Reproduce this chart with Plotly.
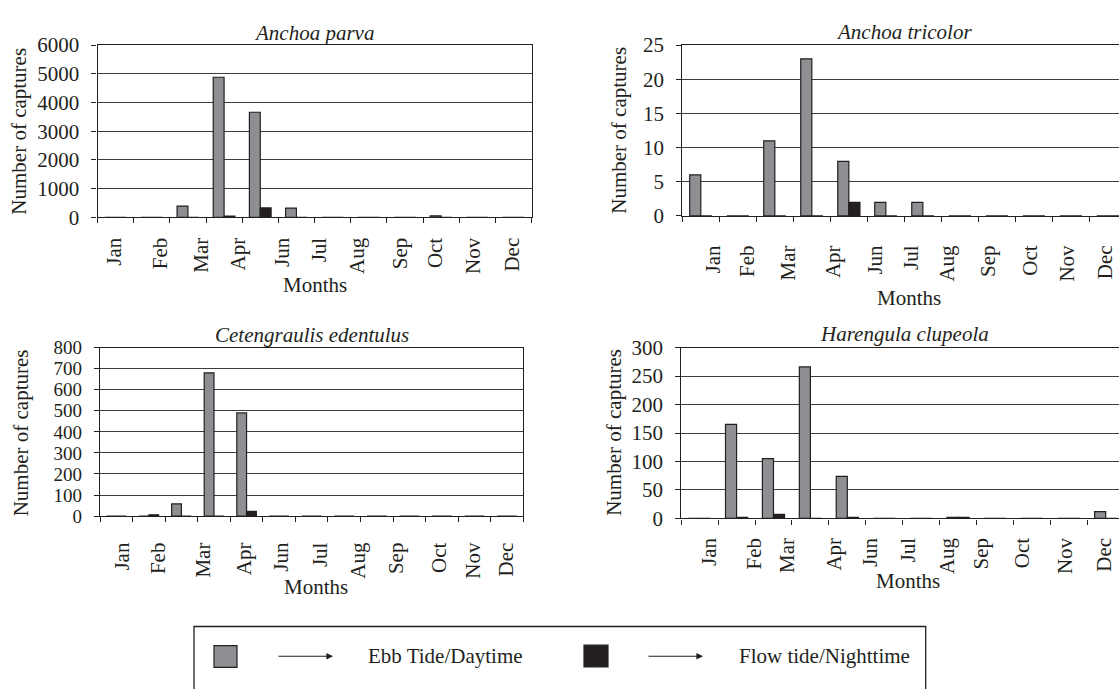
import plotly.graph_objects as go

W, H = 1119, 689

# ---------------- data ----------------
month_labels = ["Jan", "Feb", "Mar", "Apr", "Jun", "Jul", "Aug", "Sep", "Oct", "Nov", "Dec"]

samples_12 = list(range(12))   # sampling campaigns (panels with 12 samples)
samples_13 = list(range(13))   # sampling campaigns (panel with 13 samples)

parva_ebb = [0, 0, 390, 4880, 3660, 320, 0, 0, 0, 50, 0, 0]
parva_flow = [0, 0, 0, 45, 325, 0, 0, 0, 0, 0, 0, 0]

tricolor_ebb = [6, 0, 11, 23, 8, 2, 2, 0, 0, 0, 0, 0]
tricolor_flow = [0, 0, 0, 0, 2, 0, 0, 0, 0, 0, 0, 0]

cetengraulis_ebb = [0, 0, 58, 680, 490, 0, 0, 0, 0, 0, 0, 0, 0]
cetengraulis_flow = [0, 6, 0, 0, 22, 0, 0, 0, 0, 0, 0, 0, 0]

harengula_ebb = [0, 165, 105, 266, 74, 0, 0, 2, 0, 0, 0, 12]
harengula_flow = [0, 2, 7, 0, 2, 0, 0, 2, 0, 0, 0, 0]

series_names = ["Ebb Tide/Daytime", "Flow tide/Nighttime"]

# ---------------- layout constants ----------------
FONT = "Liberation Serif"
FS = 21
INK = "#231f20"
GRAY = "#8e8f92"

# month-label placements along each category axis (as printed in the figure)
lab_p1 = [-0.05, 1.24, 2.38, 3.38, 4.62, 5.63, 6.68, 7.87, 8.85, 9.88, 10.97]
lab_p2 = [0.34, 1.25, 2.36, 3.57, 4.70, 5.69, 6.66, 7.76, 8.90, 9.89, 10.93]
lab_p3 = [0.19, 1.30, 2.67, 3.92, 5.05, 6.27, 7.43, 8.59, 9.91, 10.97, 11.97]
lab_p4 = [0.27, 1.48, 2.38, 3.64, 4.62, 5.64, 6.70, 7.62, 8.73, 9.89, 10.95]


def fx(px):
    return px / W


def fy(py):
    return 1 - py / H


panels = [
    dict(title="Anchoa parva", x=samples_12, ebb=parva_ebb, flow=parva_flow,
         box=(97.5, 531.5, 34.3, 212.7), xr=[-0.5, 11.5], yr=[0, 6000], dt=1000,
         labs=lab_p1, stand=11, mirror=True, yfs=FS,
         title_xy=(314, 22), months_xy=(315, 283), ytitle_xy=(19, 124)),
    dict(title="Anchoa tricolor", x=samples_12, ebb=tricolor_ebb, flow=tricolor_flow,
         box=(682.3, 1119, 34.3, 211.3), xr=[-0.5, 11.3], yr=[0, 25], dt=5,
         labs=lab_p2, stand=20, mirror=False, yfs=FS,
         title_xy=(904, 21), months_xy=(909, 296), ytitle_xy=(619, 123)),
    dict(title="Cetengraulis edentulus", x=samples_13, ebb=cetengraulis_ebb, flow=cetengraulis_flow,
         box=(100, 523.4, 347.7, 522.3), xr=[-0.5, 12.5], yr=[0, 800], dt=100,
         labs=lab_p3, stand=17, mirror=True, yfs=19,
         title_xy=(312, 335), months_xy=(316, 596), ytitle_xy=(20.5, 436)),
    dict(title="Harengula clupeola", x=samples_12, ebb=harengula_ebb, flow=harengula_flow,
         box=(681.2, 1119, 347.7, 524.7), xr=[-0.5, 11.36], yr=[0, 300], dt=50,
         labs=lab_p4, stand=10, mirror=False, yfs=FS,
         title_xy=(904, 334), months_xy=(908, 590), ytitle_xy=(614, 436)),
]

fig = go.Figure()
annotations = []
shapes = []

for i, p in enumerate(panels, start=1):
    sfx = "" if i == 1 else str(i)
    xa, ya = "x" + sfx, "y" + sfx
    for name, vals, col in ((series_names[0], p["ebb"], GRAY), (series_names[1], p["flow"], INK)):
        fig.add_trace(go.Bar(
            x=p["x"], y=vals, name=name, xaxis=xa, yaxis=ya,
            marker=dict(color=col, line=dict(color=INK, width=1.2)),
            showlegend=False,
        ))
    x0, x1, y0, y1 = p["box"]
    fig.layout["xaxis" + sfx] = dict(
        domain=[fx(x0), fx(x1)], anchor=ya, range=p["xr"],
        tickmode="array", tickvals=p["labs"], ticktext=month_labels,
        tickangle=-90, ticks="", ticklabelstandoff=p["stand"],
        tickfont=dict(family=FONT, size=FS, color=INK),
        showline=True, linecolor=INK, linewidth=1.2, mirror=True,
        showgrid=False, zeroline=False, fixedrange=True,
        minor=dict(tickmode="linear", tick0=-0.5, dtick=1, ticks="outside",
                   ticklen=5, tickcolor=INK, tickwidth=1.2, showgrid=False),
    )
    fig.layout["yaxis" + sfx] = dict(
        domain=[fy(y1), fy(y0)], anchor=xa, range=p["yr"],
        tickmode="linear", tick0=0, dtick=p["dt"],
        ticks="outside", ticklen=5, tickcolor=INK, tickwidth=1.2,
        ticklabelstandoff=8,
        tickfont=dict(family=FONT, size=p["yfs"], color=INK),
        showline=True, linecolor=INK, linewidth=1.2, mirror=p["mirror"],
        showgrid=True, gridcolor="#3c3c3c", gridwidth=1.2, zeroline=False,
        fixedrange=True,
    )
    tx, ty = p["title_xy"]
    annotations.append(dict(text=p["title"], x=fx(tx), y=fy(ty), xref="paper", yref="paper",
                            showarrow=False, xanchor="center", yanchor="middle",
                            font=dict(family=FONT, size=FS, color=INK, style="italic")))
    mx, my = p["months_xy"]
    annotations.append(dict(text="Months", x=fx(mx), y=fy(my), xref="paper", yref="paper",
                            showarrow=False, xanchor="center", yanchor="middle",
                            font=dict(family=FONT, size=FS, color=INK)))
    yx, yy = p["ytitle_xy"]
    annotations.append(dict(text="Number of captures", x=fx(yx), y=fy(yy), xref="paper", yref="paper",
                            showarrow=False, xanchor="center", yanchor="middle", textangle=-90,
                            font=dict(family=FONT, size=FS, color=INK)))

# ---------------- legend box (drawn) ----------------
shapes.append(dict(type="rect", xref="paper", yref="paper",
                   x0=fx(194), x1=fx(925.7), y0=fy(705), y1=fy(636.7),
                   line=dict(color=INK, width=1.3), fillcolor="rgba(0,0,0,0)"))
shapes.append(dict(type="rect", xref="paper", yref="paper",
                   x0=fx(214), x1=fx(237), y0=fy(679), y1=fy(656.5),
                   line=dict(color=INK, width=1.2), fillcolor=GRAY))
shapes.append(dict(type="rect", xref="paper", yref="paper",
                   x0=fx(584), x1=fx(608), y0=fy(678.5), y1=fy(656),
                   line=dict(color=INK, width=1.2), fillcolor=INK))
for hx in (333, 703):
    annotations.append(dict(text="", x=fx(hx), y=fy(667.5), xref="paper", yref="paper",
                            ax=-56, ay=0, axref="pixel", ayref="pixel", showarrow=True,
                            arrowhead=2, arrowsize=1.1, arrowwidth=1.2, arrowcolor=INK))
annotations.append(dict(text=series_names[0], x=fx(445.5), y=fy(667.5), xref="paper", yref="paper",
                        showarrow=False, xanchor="center", yanchor="middle",
                        font=dict(family=FONT, size=FS, color=INK)))
annotations.append(dict(text=series_names[1], x=fx(824.5), y=fy(667.5), xref="paper", yref="paper",
                        showarrow=False, xanchor="center", yanchor="middle",
                        font=dict(family=FONT, size=FS, color=INK)))

fig.update_layout(
    width=W, height=H, margin=dict(l=0, r=0, t=0, b=0),
    paper_bgcolor="white", plot_bgcolor="white",
    barmode="group", bargap=0.4, bargroupgap=0,
    showlegend=False, annotations=annotations, shapes=shapes,
    font=dict(family=FONT, size=FS, color=INK),
)

fig.write_html(
    "out.html",
    config={"displayModeBar": False},
    post_script="document.body.style.margin='0';document.body.style.overflow='hidden';",
)
